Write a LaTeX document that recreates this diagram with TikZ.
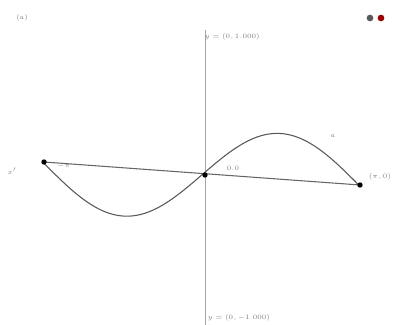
\documentclass[tikz,border=0pt]{standalone}
\begin{document}
\begin{tikzpicture}[x=0.75pt,y=-0.75pt]
  \useasboundingbox (0,0) rectangle (404,325);
  \coordinate (A) at (44,162);
  \coordinate (O) at (205,175);
  \coordinate (B) at (360,185);
  \draw[gray!70] (205,30)--(205,325);
  \draw[thick,gray!80!black] (A)--(B);
  \draw[thick,gray!70!black,domain=44:360,samples=120,smooth]
    plot (\x,{175+(\x-205)/316*23+47*sin((\x-44)/316*360)});
  \fill (A) circle (2pt);
  \fill (O) circle (2pt);
  \fill (B) circle (2pt);
  \fill[gray!70!black] (370,18) circle (2.5pt);
  \fill[red!60!black] (381,18) circle (2.5pt);
  \node[font=\tiny,gray] at (22,18) {(a)};
  \node[font=\tiny,gray] at (12,171) {$x'$};
  \node[font=\tiny,gray] at (64,166) {$-\pi$};
  \node[font=\tiny,gray] at (233,168) {$0.0$};
  \node[font=\tiny,gray] at (333,136) {$a$};
  \node[font=\tiny,gray] at (380,177) {$(\pi,0)$};
  \node[font=\tiny,gray,anchor=west] at (200,37) {$y=(0,1.000)$};
  \node[font=\tiny,gray,anchor=west] at (203,318) {$y=(0,-1.000)$};
\end{tikzpicture}
\end{document}
